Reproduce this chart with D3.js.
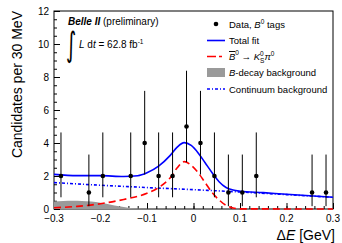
<!DOCTYPE html>
<html lang="en">
<head>
<meta charset="UTF-8">
<title>Delta E fit</title>
<script src="https://d3js.org/d3.v7.min.js"></script>
<style>
  body { margin: 0; background: #fff; }
  svg { font-family: "Liberation Sans", Arial, sans-serif; }
</style>
</head>
<body>
<script>
// data
const binCenters = [-0.285, -0.255, -0.225, -0.195, -0.165, -0.135, -0.105, -0.075, -0.045, -0.015,
                    0.015, 0.045, 0.075, 0.105, 0.135, 0.165, 0.195, 0.225, 0.255, 0.285];
const counts = [2, 0, 1, 2, 0, 2, 4, 2, 2, 5, 4, 2, 1, 1, 2, 0, 0, 0, 1, 1];
// poisson error bars (low / high) per count
const errLow  = {1: 0.83, 2: 1.29, 4: 1.91, 5: 2.16};
const errHigh = {1: 2.30, 2: 2.64, 4: 3.16, 5: 3.38};

const totX = [-0.3, -0.25, -0.2, -0.15, -0.12, -0.1, -0.075, -0.05, -0.035, -0.02, -0.005, 0.01,
              0.025, 0.04, 0.055, 0.07, 0.085, 0.1, 0.15, 0.2, 0.25, 0.3];
const totY = [2.1, 2.02, 2.02, 1.97, 2.02, 2.2, 2.6, 3.25, 3.75, 4.02, 3.85, 3.4,
              2.8, 2.2, 1.65, 1.3, 1.15, 1.08, 0.99, 0.89, 0.8, 0.71];

const sigX = [-0.3, -0.25, -0.2, -0.15, -0.1, -0.075, -0.05, -0.035, -0.02, -0.005, 0.01,
              0.025, 0.04, 0.055, 0.07, 0.085, 0.1, 0.3];
const sigY = [0.08, 0.16, 0.32, 0.58, 0.95, 1.3, 1.9, 2.5, 2.87, 2.65, 2.2,
              1.6, 1.0, 0.55, 0.22, 0.06, 0.01, 0];

const contX = [-0.3, -0.2, -0.1, 0, 0.1, 0.2, 0.3];
const contY = [1.60, 1.44, 1.30, 1.17, 1.03, 0.87, 0.71];

const bkgX = [-0.3, -0.28, -0.26, -0.24, -0.22, -0.2, -0.18, -0.16, -0.14, -0.12, -0.1, -0.05, 0.3];
const bkgY = [0.45, 0.48, 0.5, 0.49, 0.45, 0.38, 0.28, 0.17, 0.08, 0.03, 0.01, 0, 0];

const xTicks = [-0.3, -0.2, -0.1, 0, 0.1, 0.2, 0.3];
const yTicks = [0, 2, 4, 6, 8, 10, 12];

const width = 342, height = 243;
const m = {left: 54, right: 9, top: 11, bottom: 34};

const svg = d3.select("body").append("svg")
  .attr("width", width).attr("height", height);

const x = d3.scaleLinear().domain([-0.3, 0.3]).range([m.left, width - m.right]);
const y = d3.scaleLinear().domain([0, 12]).range([height - m.bottom, m.top]);

// frame
svg.append("rect")
  .attr("x", x(-0.3)).attr("y", y(12))
  .attr("width", x(0.3) - x(-0.3)).attr("height", y(0) - y(12))
  .attr("fill", "none").attr("stroke", "#000").attr("stroke-width", 1);

// axes, ticks pointing inward
const xAxis = svg.append("g").attr("transform", `translate(0,${y(0)})`)
  .call(d3.axisTop(x).tickValues(d3.range(-0.3, 0.3001, 0.02)).tickSize(3).tickFormat(""));
xAxis.append("g").call(d3.axisTop(x).tickValues(xTicks).tickSize(6).tickFormat(""));
xAxis.selectAll(".domain").remove();
xAxis.selectAll("text").remove();

const yAxis = svg.append("g").attr("transform", `translate(${x(-0.3)},0)`)
  .call(d3.axisRight(y).tickValues(d3.range(0, 12.01, 0.5)).tickSize(3).tickFormat(""));
yAxis.append("g").call(d3.axisRight(y).tickValues(yTicks).tickSize(6).tickFormat(""));
yAxis.selectAll(".domain").remove();
svg.selectAll(".tick line").attr("stroke", "#000");

svg.selectAll(".xlab").data(xTicks).enter().append("text")
  .attr("x", d => x(d)).attr("y", y(0) + 13)
  .attr("text-anchor", "middle").attr("font-size", 10)
  .text(d => d === 0 ? "0" : d3.format(".1f")(d).replace("-", "\u2212"));

svg.selectAll(".ylab").data(yTicks).enter().append("text")
  .attr("x", x(-0.3) - 5).attr("y", d => y(d) + 3.5)
  .attr("text-anchor", "end").attr("font-size", 10)
  .text(d => d);

// axis titles
svg.append("text")
  .attr("transform", `translate(22,${m.top}) rotate(-90)`)
  .attr("text-anchor", "end").attr("font-size", 14)
  .text("Candidates per 30 MeV");

const xt = svg.append("text")
  .attr("x", 335).attr("y", 240).attr("text-anchor", "end").attr("font-size", 14);
xt.append("tspan").text("\u0394");
xt.append("tspan").attr("font-style", "italic").text("E");
xt.append("tspan").text(" [GeV]");

// curves
const pts = (xs, ys) => xs.map((v, i) => [v, ys[i]]);

svg.append("path")
  .datum(pts(bkgX, bkgY))
  .attr("fill", "#9a9a9a")
  .attr("d", d3.area().x(d => x(d[0])).y0(y(0)).y1(d => y(d[1])).curve(d3.curveMonotoneX));

const line = d3.line().x(d => x(d[0])).y(d => y(d[1])).curve(d3.curveMonotoneX);

svg.append("path").datum(pts(contX, contY))
  .attr("fill", "none").attr("stroke", "#0000ff").attr("stroke-width", 1.6)
  .attr("stroke-dasharray", "3,2,1,2").attr("d", line);

svg.append("path").datum(pts(sigX, sigY))
  .attr("fill", "none").attr("stroke", "#ff0000").attr("stroke-width", 1.6)
  .attr("stroke-dasharray", "7,4").attr("d", line);

svg.append("path").datum(pts(totX, totY))
  .attr("fill", "none").attr("stroke", "#0000ff").attr("stroke-width", 1.6)
  .attr("d", line);

// data points
const data = binCenters.map((c, i) => ({c, n: counts[i]})).filter(d => d.n > 0);

svg.selectAll(".err").data(data).enter().append("line")
  .attr("x1", d => x(d.c)).attr("x2", d => x(d.c))
  .attr("y1", d => y(d.n - errLow[d.n])).attr("y2", d => y(d.n + errHigh[d.n]))
  .attr("stroke", "#000").attr("stroke-width", 1);

svg.selectAll(".pt").data(data).enter().append("circle")
  .attr("cx", d => x(d.c)).attr("cy", d => y(d.n)).attr("r", 2.3)
  .attr("fill", "#000");

// Belle II label
const bl = svg.append("text").attr("x", 68).attr("y", 25).attr("font-size", 10);
bl.append("tspan").attr("font-weight", "bold").attr("font-style", "italic").text("Belle II");
bl.append("tspan").text("  (preliminary)");

svg.append("text").attr("transform", "translate(66,55.5) scale(0.7,1.2)")
  .attr("font-size", 28).attr("font-family", "DejaVu Sans").text("\u222B");
const lum = svg.append("text").attr("x", 79).attr("y", 48).attr("font-size", 10);
lum.append("tspan").attr("font-style", "italic").text("L");
lum.append("tspan").text(" d");
lum.append("tspan").attr("font-style", "italic").text("t");
lum.append("tspan").text(" = 62.8 fb");
lum.append("tspan").attr("font-size", 6.5).attr("dy", -4).text("-1");

// legend
const lg = svg.append("g").attr("font-size", 9.5);
const lx = 207, lw = 18, tx = 229;
const rows = [24, 40.5, 56.5, 72.5, 89];

lg.append("circle").attr("cx", lx + lw / 2).attr("cy", rows[0]).attr("r", 2.3).attr("fill", "#000");
const t0 = lg.append("text").attr("x", tx).attr("y", rows[0] + 3.5);
t0.append("tspan").text("Data, ");
t0.append("tspan").attr("font-style", "italic").text("B");
t0.append("tspan").attr("font-size", 6.5).attr("dy", -4).text("0");
t0.append("tspan").attr("dy", 4).text(" tags");

lg.append("line").attr("x1", lx).attr("x2", lx + lw).attr("y1", rows[1]).attr("y2", rows[1])
  .attr("stroke", "#0000ff").attr("stroke-width", 1.6);
lg.append("text").attr("x", tx).attr("y", rows[1] + 3.5).text("Total fit");

lg.append("line").attr("x1", lx).attr("x2", lx + lw).attr("y1", rows[2]).attr("y2", rows[2])
  .attr("stroke", "#ff0000").attr("stroke-width", 1.6).attr("stroke-dasharray", "9,3,3,3");
const t2 = lg.append("text").attr("x", tx).attr("y", rows[2] + 3.5);
t2.append("tspan").attr("font-style", "italic").attr("text-decoration", "overline").text("B");
t2.append("tspan").attr("font-size", 6.5).attr("dy", -5).text("0");
t2.append("tspan").attr("dy", 5).text(" \u2192 ");
t2.append("tspan").attr("font-style", "italic").text("K");
t2.append("tspan").attr("font-size", 6.5).attr("dy", -4).text("0");
t2.append("tspan").attr("font-size", 6.5).attr("dx", -3.6).attr("dy", 7).text("S");
t2.append("tspan").attr("font-style", "italic").attr("dy", -3).text("\u03C0");
t2.append("tspan").attr("font-size", 6.5).attr("dy", -4).text("0");

lg.append("rect").attr("x", lx).attr("y", rows[3] - 4.5).attr("width", lw).attr("height", 9)
  .attr("fill", "#9a9a9a");
const t3 = lg.append("text").attr("x", tx).attr("y", rows[3] + 3.5);
t3.append("tspan").attr("font-style", "italic").text("B");
t3.append("tspan").text("-decay background");

lg.append("line").attr("x1", lx).attr("x2", lx + lw).attr("y1", rows[4]).attr("y2", rows[4])
  .attr("stroke", "#0000ff").attr("stroke-width", 1.6).attr("stroke-dasharray", "3,2,1,2");
lg.append("text").attr("x", tx).attr("y", rows[4] + 3.5).text("Continuum background");
</script>
</body>
</html>
